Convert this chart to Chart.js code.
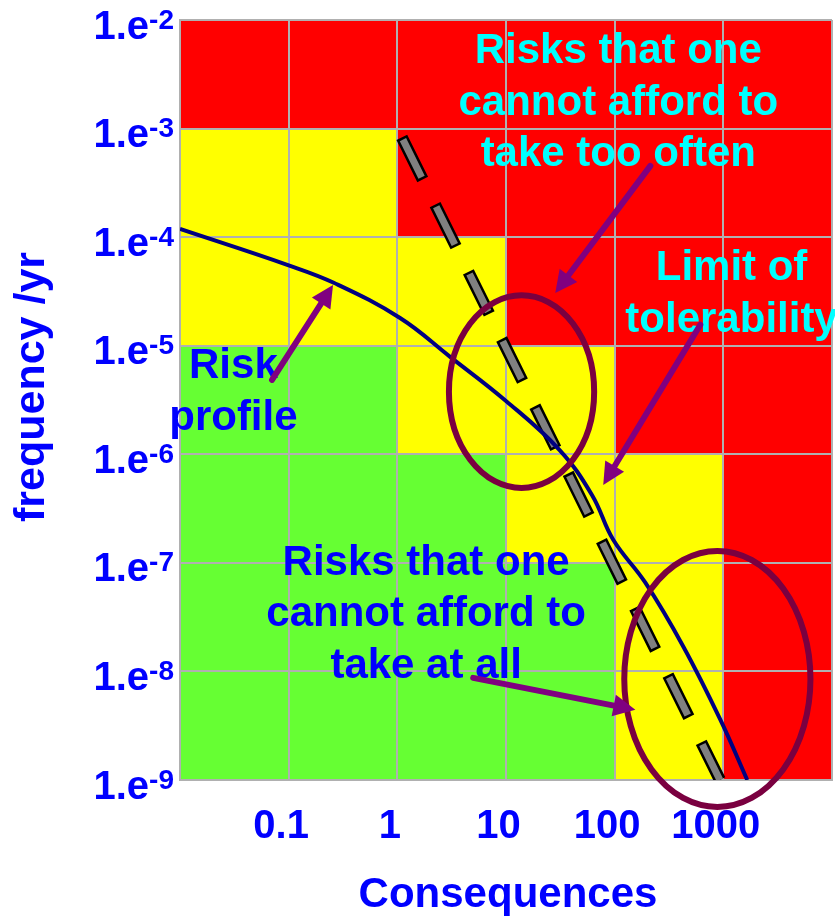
<!DOCTYPE html>
<html>
<head>
<meta charset="utf-8">
<title>Risk profile</title>
<script src="https://cdn.jsdelivr.net/npm/chart.js@4.4.0/dist/chart.umd.min.js"></script>
<style>
  html, body { margin: 0; padding: 0; background: #fff; }
</style>
</head>
<body>
<canvas id="riskChart" width="835" height="919"></canvas>
<script>
// Axis decades (cell edges and grid lines)
const consequenceDecades = [0.01, 0.1, 1, 10, 100, 1000, 10000];
const frequencyDecades = [1e-2, 1e-3, 1e-4, 1e-5, 1e-6, 1e-7, 1e-8, 1e-9];

// Tick labels
const xTickValues = [0.1, 1, 10, 100, 1000];
const xTickLabels = ['0.1', '1', '10', '100', '1000'];
const yTickValues = [1e-2, 1e-3, 1e-4, 1e-5, 1e-6, 1e-7, 1e-8, 1e-9];
const yTickExponents = ['-2', '-3', '-4', '-5', '-6', '-7', '-8', '-9'];

// Risk zones: one string per frequency decade (top first), one letter per consequence decade
const zoneRows = [
  'RRRRRR',
  'YYRRRR',
  'YYYRRR',
  'GGYYRR',
  'GGGYYR',
  'GGGGYR',
  'GGGGYR'
];
const zoneColours = { R: '#ff0000', Y: '#ffff00', G: '#66ff33' };

// Risk profile curve
const profileConsequence = [0.01, 0.1, 0.26, 1.06, 3.06, 10, 31, 62, 97, 191, 429, 938, 1660];
const profileFrequency = [1.19e-4, 5.5e-5, 3.8e-5, 1.8e-5, 7.9e-6, 3.1e-6, 1.1e-6, 4.2e-7, 1.63e-7, 6.6e-8, 1.69e-8, 3.6e-9, 1.0e-9];

// Limit of tolerability
const limitConsequence = [1.1, 930];
const limitFrequency = [8.3e-4, 1e-9];

// Annotations, in data units
const ellipses = [
  { x: [2.8, 69], y: [3.1e-5, 4.6e-7] },
  { x: [115, 6750], y: [1.37e-7, 5.3e-10] }
];
const arrows = [
  { from: [0.0703, 4.84e-6], to: [0.256, 3.63e-5] },
  { from: [213, 4.53e-4], to: [28.4, 3.06e-5] },
  { from: [614, 1.56e-5], to: [78.5, 5.22e-7] },
  { from: [4.99, 8.73e-9], to: [155, 4.43e-9] }
];
const notes = [
  { lines: ['Risks that one', 'cannot afford to', 'take too often'], x: 108, y: 4.0e-3, color: '#00ffff' },
  { lines: ['Limit of', 'tolerability'], x: 1190, y: 4.0e-5, color: '#00ffff' },
  { lines: ['Risk', 'profile'], x: 0.031, y: 5.0e-6, color: '#0000ff' },
  { lines: ['Risks that one', 'cannot afford to', 'take at all'], x: 1.84, y: 7.8e-8, color: '#0000ff' }
];

const FONT = '"Liberation Sans", Arial, sans-serif';
const BLUE = '#0000ff';

function drawArrow(ctx, x1, y1, x2, y2) {
  const ang = Math.atan2(y2 - y1, x2 - x1);
  const headLen = 22, headHalf = 11;
  const bx = x2 - headLen * Math.cos(ang);
  const by = y2 - headLen * Math.sin(ang);
  ctx.strokeStyle = '#800080';
  ctx.fillStyle = '#800080';
  ctx.lineWidth = 6;
  ctx.lineCap = 'round';
  ctx.beginPath();
  ctx.moveTo(x1, y1);
  ctx.lineTo(bx + 4 * Math.cos(ang), by + 4 * Math.sin(ang));
  ctx.stroke();
  ctx.beginPath();
  ctx.moveTo(x2, y2);
  ctx.lineTo(bx - headHalf * Math.sin(ang), by + headHalf * Math.cos(ang));
  ctx.lineTo(bx + headHalf * Math.sin(ang), by - headHalf * Math.cos(ang));
  ctx.closePath();
  ctx.fill();
}

const riskDecor = {
  id: 'riskDecor',
  beforeDraw(chart) {
    const { ctx, scales: { x, y } } = chart;
    ctx.save();
    zoneRows.forEach((row, r) => {
      const top = y.getPixelForValue(frequencyDecades[r]);
      const bottom = y.getPixelForValue(frequencyDecades[r + 1]);
      row.split('').forEach((c, i) => {
        const left = x.getPixelForValue(consequenceDecades[i]);
        const right = x.getPixelForValue(consequenceDecades[i + 1]);
        ctx.fillStyle = zoneColours[c];
        ctx.fillRect(left, top, right - left, bottom - top);
      });
    });
    ctx.restore();
  },
  afterDatasetsDraw(chart) {
    const { ctx, scales: { x, y } } = chart;
    ctx.save();
    // ellipses
    ctx.strokeStyle = '#7a0040';
    ctx.lineWidth = 6;
    ellipses.forEach(e => {
      const l = x.getPixelForValue(e.x[0]), r = x.getPixelForValue(e.x[1]);
      const t = y.getPixelForValue(e.y[0]), b = y.getPixelForValue(e.y[1]);
      ctx.beginPath();
      ctx.ellipse((l + r) / 2, (t + b) / 2, (r - l) / 2 - 3, (b - t) / 2 - 3, 0, 0, Math.PI * 2);
      ctx.stroke();
    });
    // notes
    ctx.font = 'bold 42px ' + FONT;
    ctx.textAlign = 'center';
    ctx.textBaseline = 'alphabetic';
    notes.forEach(n => {
      const px = x.getPixelForValue(n.x);
      const py = y.getPixelForValue(n.y);
      ctx.fillStyle = n.color;
      n.lines.forEach((line, i) => ctx.fillText(line, px, py + i * 51.5));
    });
    // arrows
    arrows.forEach(a => {
      drawArrow(ctx,
        x.getPixelForValue(a.from[0]), y.getPixelForValue(a.from[1]),
        x.getPixelForValue(a.to[0]), y.getPixelForValue(a.to[1]));
    });
    ctx.restore();
  },
  afterDraw(chart) {
    const { ctx, chartArea, scales: { x, y } } = chart;
    ctx.save();
    ctx.fillStyle = BLUE;
    ctx.textBaseline = 'alphabetic';
    // x tick labels
    ctx.font = 'bold 40px ' + FONT;
    ctx.textAlign = 'center';
    xTickValues.forEach((v, i) => {
      ctx.fillText(xTickLabels[i], x.getPixelForValue(v) - 7.5, chartArea.bottom + 58);
    });
    // y tick labels, 1.e with superscript exponent
    ctx.textAlign = 'left';
    yTickValues.forEach((v, i) => {
      const py = y.getPixelForValue(v) + 18.5;
      ctx.font = 'bold 28px ' + FONT;
      const wSup = ctx.measureText(yTickExponents[i]).width;
      ctx.font = 'bold 40px ' + FONT;
      const wMain = ctx.measureText('1.e').width;
      const right = chartArea.left - 6;
      ctx.fillText('1.e', right - wSup - wMain, py);
      ctx.font = 'bold 28px ' + FONT;
      ctx.fillText(yTickExponents[i], right - wSup, py - 10);
    });
    // axis titles
    ctx.font = 'bold 42px ' + FONT;
    ctx.textAlign = 'center';
    ctx.fillText('Consequences', (chartArea.left + chartArea.right) / 2 + 2, chartArea.bottom + 127);
    ctx.translate(chartArea.left - 136, (chartArea.top + chartArea.bottom) / 2 - 13);
    ctx.rotate(-Math.PI / 2);
    ctx.font = 'bold 43px ' + FONT;
    ctx.fillText('frequency /yr', 0, 0);
    ctx.restore();
  }
};

const decadeTicks = values => scale => {
  scale.ticks = values.map(v => ({ value: v }));
};

new Chart(document.getElementById('riskChart'), {
  type: 'line',
  data: {
    datasets: [
      {
        label: 'Risk profile',
        data: profileConsequence.map((c, i) => ({ x: c, y: profileFrequency[i] })),
        borderColor: '#000080',
        borderWidth: 4,
        pointRadius: 0,
        tension: 0.4,
        order: 0
      },
      {
        label: 'Limit of tolerability',
        data: limitConsequence.map((c, i) => ({ x: c, y: limitFrequency[i] })),
        borderColor: '#808080',
        borderWidth: 7,
        borderDash: [42, 33],
        borderDashOffset: -2.5,
        borderCapStyle: 'butt',
        pointRadius: 0,
        order: 1
      },
      {
        label: 'Limit outline',
        data: limitConsequence.map((c, i) => ({ x: c, y: limitFrequency[i] })),
        borderColor: '#000000',
        borderWidth: 12,
        borderDash: [47, 28],
        borderCapStyle: 'butt',
        pointRadius: 0,
        order: 2
      }
    ]
  },
  options: {
    responsive: false,
    animation: false,
    devicePixelRatio: 1,
    layout: { padding: { left: 180, top: 20, right: 3, bottom: 139 } },
    plugins: {
      legend: { display: false },
      tooltip: { enabled: false }
    },
    scales: {
      x: {
        type: 'logarithmic',
        min: 0.01,
        max: 10000,
        afterBuildTicks: decadeTicks(consequenceDecades),
        afterFit: scale => { scale.height = 0; },
        ticks: { display: false },
        grid: { color: '#b0b0b0', lineWidth: 2, tickLength: 0 },
        border: { color: '#b0b0b0', width: 2 }
      },
      y: {
        type: 'logarithmic',
        min: 1e-9,
        max: 1e-2,
        afterBuildTicks: decadeTicks(frequencyDecades),
        afterFit: scale => { scale.width = 0; },
        ticks: { display: false },
        grid: { color: '#b0b0b0', lineWidth: 2, tickLength: 0 },
        border: { color: '#b0b0b0', width: 2 }
      }
    }
  },
  plugins: [riskDecor]
});
</script>
</body>
</html>
